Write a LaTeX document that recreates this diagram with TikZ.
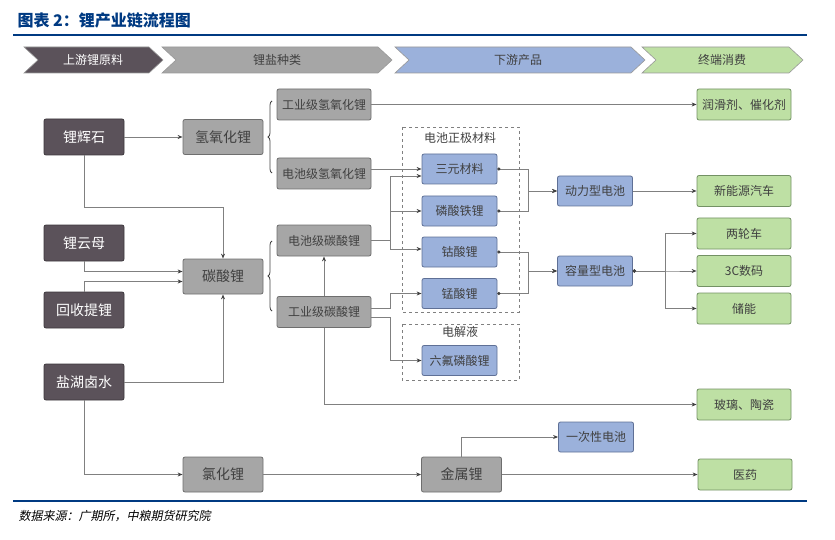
\documentclass[tikz,border=0pt]{standalone}
\usepackage{fontspec}
\setmainfont{Noto Sans CJK SC}
\newfontfamily\srcfont[FakeSlant=0.2]{Noto Sans CJK SC}
\usetikzlibrary{arrows.meta,decorations.pathreplacing}
\definecolor{rawc}{RGB}{91,82,90}
\definecolor{rawd}{RGB}{60,55,60}
\definecolor{saltc}{RGB}{166,166,166}
\definecolor{saltd}{RGB}{110,110,110}
\definecolor{prodc}{RGB}{155,177,219}
\definecolor{prodd}{RGB}{95,112,150}
\definecolor{usec}{RGB}{190,224,164}
\definecolor{used}{RGB}{115,145,100}
\definecolor{titlec}{RGB}{0,58,130}
\definecolor{txtc}{RGB}{64,64,64}
\definecolor{linec}{RGB}{128,128,128}

\begin{document}
\begin{tikzpicture}[x=1pt,y=-1pt,->,>={Stealth[length=5pt,width=4pt,color=txtc]},
box/.style={draw,rounded corners=2pt,inner sep=0pt,line width=0.8pt,text=txtc},
raw/.style={box,fill=rawc,draw=rawd,text=white,minimum width=80pt,minimum height=36pt,font=\fontsize{14}{16}\selectfont},
salt/.style={box,fill=saltc,draw=saltd,minimum width=80pt,minimum height=35pt,font=\fontsize{14}{16}\selectfont},
grade/.style={box,fill=saltc,draw=saltd,minimum width=94pt,minimum height=31pt,font=\fontsize{12}{14}\selectfont},
prod/.style={box,fill=prodc,draw=prodd,minimum width=75pt,minimum height=30pt,font=\fontsize{12}{14}\selectfont},
use/.style={box,fill=usec,draw=used,minimum width=94pt,minimum height=31pt,font=\fontsize{12}{14}\selectfont},
head/.style={text=txtc,font=\fontsize{12}{14}\selectfont},
note/.style={text=txtc,font=\fontsize{12}{14}\selectfont},
link/.style={draw=linec,line width=0.9pt},
grp/.style={-,draw=gray,dashed,line width=0.7pt},
brc/.style={-,draw=txtc,line width=0.8pt,decorate,decoration={brace,amplitude=4pt}},
band/.style={-,draw=gray!80,line width=0.6pt}]
\useasboundingbox (0,0) rectangle (835,540);

% title and rules
\node[anchor=west,text=titlec,font=\fontsize{16}{18}\selectfont\bfseries] (title) at (14,20) {图表 2：锂产业链流程图};
\draw[-,titlec,line width=2pt] (13,35) -- (807,35);
\draw[-,titlec,line width=2pt] (13,501) -- (807,501);
\node[anchor=west,font=\fontsize{12}{14}\srcfont] (src) at (15,516) {数据来源：广期所，中粮期货研究院};

% header band
\draw[band,fill=rawc] (24,47) -- (149,47) -- (163,60) -- (149,73) -- (24,73) -- (38,60) -- cycle;
\draw[band,fill=saltc] (162,47) -- (378,47) -- (392,60) -- (378,73) -- (162,73) -- (176,60) -- cycle;
\draw[band,fill=prodc] (395,47) -- (631,47) -- (645,60) -- (631,73) -- (395,73) -- (409,60) -- cycle;
\draw[band,fill=usec] (642,47) -- (789,47) -- (803,60) -- (789,73) -- (642,73) -- (656,60) -- cycle;
\node[head,text=white] (h1) at (93,60) {上游锂原料};
\node[head] (h2) at (277,60) {锂盐种类};
\node[head] (h3) at (518,60) {下游产品};
\node[head] (h4) at (722,60) {终端消费};

% groups
\draw[grp] (402,127) rectangle (519,312);
\node[note] (cathode) at (460,138) {电池正极材料};
\draw[grp] (402,324) rectangle (519,380);
\node[note] (elyte) at (460,332) {电解液};

% raw materials
\node[raw] (lps) at (84,137) {锂辉石};
\node[raw] (lym) at (84,243) {锂云母};
\node[raw] (hs) at (84,310) {回收提锂};
\node[raw] (yh) at (84,382) {盐湖卤水};

% lithium salts
\node[salt] (qyh) at (223,137) {氢氧化锂};
\node[salt] (tsl) at (223,276.5) {碳酸锂};
\node[salt] (lhl) at (223,474.5) {氯化锂};
\node[grade] (gq) at (324,104.5) {工业级氢氧化锂};
\node[grade] (dq) at (324,173.5) {电池级氢氧化锂};
\node[grade] (dt) at (324,240.5) {电池级碳酸锂};
\node[grade] (gt) at (324,312) {工业级碳酸锂};

% products
\node[prod] (sy) at (459.5,169) {三元材料};
\node[prod] (lf) at (459.5,211) {磷酸铁锂};
\node[prod] (gs) at (459.5,252) {钴酸锂};
\node[prod] (ms) at (459.5,293.5) {锰酸锂};
\node[prod] (lfp) at (459.5,360.5) {六氟磷酸锂};
\node[salt] (jsl) at (461.5,474.5) {金属锂};
\node[prod] (dl) at (595,191) {动力型电池};
\node[prod] (rl) at (595,271) {容量型电池};
\node[prod] (yc) at (596,437) {一次性电池};

% end uses
\node[use] (rh) at (744,104.5) {润滑剂、催化剂};
\node[use] (xny) at (744,191) {新能源汽车};
\node[use] (lk) at (744,233.5) {两轮车};
\node[use] (sc) at (744,271) {3C数码};
\node[use] (cn) at (744,308.5) {储能};
\node[use] (bl) at (744,404.5) {玻璃、陶瓷};
\node[use] (yy) at (745,474.5) {医药};

% raw -> salts
\draw[link] (lps) -- (qyh);
\draw[link] (lps) -- ++(0,70) -| (tsl);
\draw[link] (lym) |- ([yshift=5pt]tsl.west);
\draw[link] (hs) |- ([yshift=-5pt]tsl.west);
\draw[link] (yh) -| (tsl);
\draw[link] (yh) |- (lhl);
\draw[link] (lhl) -- (jsl);
\draw[link] (jsl) -- (yy);
\draw[link] (jsl) |- (yc);

% braces
\draw[brc] (272,173) -- (272,101);
\draw[brc] (272,311) -- (272,241);

% salts -> products
\draw[link] (gq) -- (rh);
\draw[link] (sy.west -| dq.east) -- (sy.west);
\draw[link] (dt.east) -- ++(19,0) |- ([yshift=-7pt]sy.west);
\draw[link] (dt.east) -- ++(19,0) |- (lf);
\draw[link] (dt.east) -- ++(19,0) |- ([yshift=3pt]gs.west);
\draw[link] ([yshift=4pt]gt.east) -- ++(19,0) |- (ms);
\draw[link] ([yshift=-5pt]gt.east) -- ++(19,0) |- (lfp);
\draw[link] (gt) -- (dt);
\draw[link] (gt) |- (bl);

% products -> batteries -> uses
\draw[link,{Circle[length=3pt,color=txtc]}->] (sy.east) -- ++(31,0) |- (dl);
\draw[link,{Circle[length=3pt,color=txtc]}->] (lf.east) -- ++(31,0) |- (dl);
\draw[link,{Circle[length=3pt,color=txtc]}->] (gs.east) -- ++(31,0) |- (rl);
\draw[link,{Circle[length=3pt,color=txtc]}->] (ms.east) -- ++(31,0) |- (rl);
\draw[link] (dl) -- (xny);
\draw[link,{Circle[length=3pt,color=txtc]}->] (rl.east) -- ++(33,0) |- (lk);
\draw[link,{Circle[length=3pt,color=txtc]}->] (rl.east) -- ++(33,0) |- (sc);
\draw[link,{Circle[length=3pt,color=txtc]}->] (rl.east) -- ++(33,0) |- (cn);
\end{tikzpicture}
\end{document}
